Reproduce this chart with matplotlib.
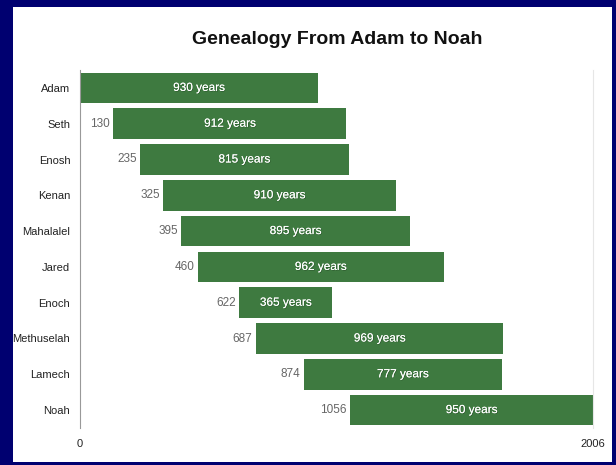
import matplotlib.pyplot as plt
import matplotlib.patches as mpatches
import matplotlib.patheffects as pe

## data
names = ['Adam', 'Seth', 'Enosh', 'Kenan', 'Mahalalel', 'Jared', 'Enoch',
         'Methuselah', 'Lamech', 'Noah']
born = [0, 130, 235, 325, 395, 460, 622, 687, 874, 1056]
lived = [930, 912, 815, 910, 895, 962, 365, 969, 777, 950]
x_ticks = [0, 2006]

green = '#3e7a40'
navy = '#000070'

plt.rcParams['font.family'] = ['Liberation Sans', 'DejaVu Sans']

fig = plt.figure(figsize=(6.16, 4.65), dpi=100)
fig.patch.set_facecolor(navy)
W, H = 616, 465
## white panel inside the navy frame
fig.patches.append(mpatches.Rectangle((13 / W, 3 / H), (612 - 13) / W, (458 - 3) / H,
                                      transform=fig.transFigure, facecolor='white',
                                      edgecolor='none', zorder=-10))

ax = fig.add_axes([80 / W, 1 - 428 / H, (593 - 80) / W, (428 - 70) / H])
ax.set_facecolor('none')

rows = list(range(len(names)))
ax.barh(rows, lived, left=born, height=0.85, color=green, zorder=2)

shadow = [pe.withSimplePatchShadow(offset=(0.5, -0.5), shadow_rgbFace='black', alpha=0.25), pe.Normal()]
for i in rows:
    ax.text(born[i] + lived[i] / 2, i, f'{lived[i]} years', color='white',
            ha='center', va='center', fontsize=8.5, zorder=3, path_effects=shadow)
    if born[i] > 0:
        ax.text(born[i] - 12, i, str(born[i]), color='#666666', ha='right',
                va='center', fontsize=8.5, zorder=3)

ax.set_xlim(0, 2006)
ax.set_ylim(len(names) - 0.5, -0.5)
ax.set_yticks(rows)
ax.set_yticklabels(names, fontsize=8, color='#222222')
ax.set_xticks(x_ticks)
ax.set_xticklabels([str(t) for t in x_ticks], fontsize=8, color='#222222')
ax.tick_params(axis='both', length=0)
ax.tick_params(axis='y', pad=7)
ax.tick_params(axis='x', pad=8)

for s in ['top', 'bottom']:
    ax.spines[s].set_visible(False)
ax.spines['left'].set_color('#999999')
ax.spines['right'].set_color('#e6e6e6')

fig.text(337 / W, 1 - 40 / H, 'Genealogy From Adam to Noah', ha='center', va='center',
         fontsize=14, fontweight='bold', color='#111111')

fig.savefig('out.png', dpi=100, facecolor=fig.get_facecolor())
